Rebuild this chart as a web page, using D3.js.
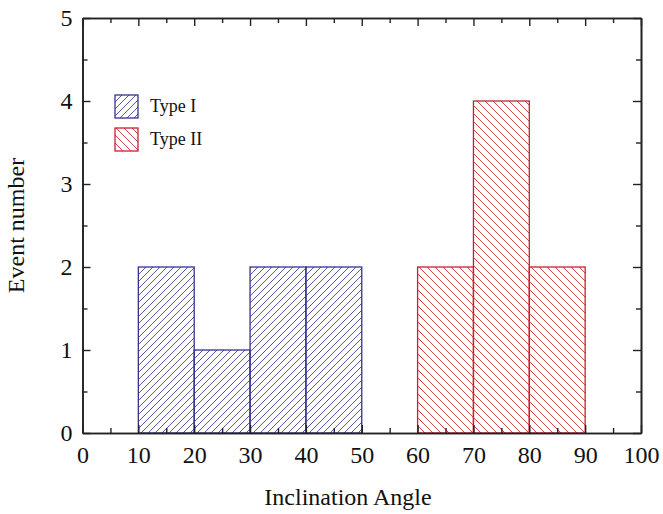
<!DOCTYPE html>
<html>
<head>
<meta charset="utf-8">
<script src="https://cdn.jsdelivr.net/npm/d3@7"></script>
<style>
  body { margin: 0; background: #fff; }
  text { font-family: "Liberation Serif", "Times New Roman", serif; fill: #111; }
</style>
</head>
<body>
<div id="chart"></div>
<script>
// bins of inclination angle (deg) and event counts
var binStarts1 = [0, 10, 20, 30, 40, 50];
var counts1 = [0, 2, 1, 2, 2, 0];
var binStarts2 = [60, 70, 80];
var counts2 = [2, 4, 2];
var binWidth = 10;
var seriesNames = ["Type I", "Type II"];
var xTicks = [0, 10, 20, 30, 40, 50, 60, 70, 80, 90, 100];
var yTicks = [0, 1, 2, 3, 4, 5];

var width = 663, height = 514;
var margin = {top: 18, right: 22, bottom: 81, left: 82.5};

var svg = d3.select("#chart").append("svg")
    .attr("width", width)
    .attr("height", height);

var x = d3.scaleLinear().domain([0, 100]).range([margin.left, width - margin.right]);
var y = d3.scaleLinear().domain([0, 5]).range([height - margin.bottom, margin.top]);

var blue = "#34348f", red = "#c8202f";

// hatch patterns
var defs = svg.append("defs");
defs.append("pattern")
    .attr("id", "hatch1")
    .attr("patternUnits", "userSpaceOnUse")
    .attr("width", 7).attr("height", 7)
  .append("path")
    .attr("d", "M-1,1 l2,-2 M0,7 l7,-7 M6,8 l2,-2")
    .attr("stroke", "#4444a6")
    .attr("stroke-width", 0.9);
defs.append("pattern")
    .attr("id", "hatch2")
    .attr("patternUnits", "userSpaceOnUse")
    .attr("width", 8).attr("height", 8)
  .append("path")
    .attr("d", "M-1,7 l2,2 M0,0 l8,8 M7,-1 l2,2")
    .attr("stroke", "#d0303c")
    .attr("stroke-width", 0.9);

function drawBars(starts, counts, fill, color) {
    svg.append("g").selectAll("rect")
        .data(starts)
        .enter().append("rect")
            .attr("x", function(d) { return x(d); })
            .attr("width", function(d) { return x(d + binWidth) - x(d); })
            .attr("y", function(d, i) { return y(counts[i]); })
            .attr("height", function(d, i) { return y(0) - y(counts[i]); })
            .attr("fill", fill)
            .attr("stroke", color)
            .attr("stroke-width", 1.3);
}
drawBars(binStarts1, counts1, "url(#hatch1)", blue);
drawBars(binStarts2, counts2, "url(#hatch2)", red);

// axes, ticks inside on all four sides
var xMinor = d3.range(5, 100, 10);
var yMinor = d3.range(0.5, 5, 1);

var frame = svg.append("g");
frame.append("g").attr("transform", "translate(0," + y(0) + ")")
    .call(d3.axisBottom(x).tickValues(xTicks).tickSize(-8).tickSizeOuter(0).tickPadding(13));
frame.append("g").attr("transform", "translate(0," + y(0) + ")")
    .call(d3.axisBottom(x).tickValues(xMinor).tickSize(-5).tickSizeOuter(0).tickFormat(""));
frame.append("g").attr("transform", "translate(0," + y(5) + ")")
    .call(d3.axisTop(x).tickValues(xTicks).tickSize(-8).tickSizeOuter(0).tickFormat(""));
frame.append("g").attr("transform", "translate(0," + y(5) + ")")
    .call(d3.axisTop(x).tickValues(xMinor).tickSize(-5).tickSizeOuter(0).tickFormat(""));
frame.append("g").attr("transform", "translate(" + x(0) + ",0)")
    .call(d3.axisLeft(y).tickValues(yTicks).tickFormat(d3.format("d")).tickSize(-8).tickSizeOuter(0).tickPadding(10));
frame.append("g").attr("transform", "translate(" + x(0) + ",0)")
    .call(d3.axisLeft(y).tickValues(yMinor).tickSize(-5).tickSizeOuter(0).tickFormat(""));
frame.append("g").attr("transform", "translate(" + x(100) + ",0)")
    .call(d3.axisRight(y).tickValues(yTicks).tickSize(-8).tickSizeOuter(0).tickFormat(""));
frame.append("g").attr("transform", "translate(" + x(100) + ",0)")
    .call(d3.axisRight(y).tickValues(yMinor).tickSize(-5).tickSizeOuter(0).tickFormat(""));

frame.selectAll(".domain").attr("stroke", "#222").attr("stroke-width", 1.6);
frame.selectAll(".tick line").attr("stroke", "#222").attr("stroke-width", 1.4);
frame.selectAll(".tick text")
    .style("font-family", "Liberation Serif, serif")
    .style("font-size", "24px")
    .attr("fill", "#111");

// axis titles
svg.append("text")
    .attr("x", 348)
    .attr("y", 505)
    .attr("text-anchor", "middle")
    .style("font-size", "24px")
    .text("Inclination Angle");
svg.append("text")
    .attr("transform", "translate(24," + ((y(0) + y(5)) / 2) + ") rotate(-90)")
    .attr("text-anchor", "middle")
    .style("font-size", "24px")
    .text("Event number");

// legend
var legend = svg.append("g").attr("transform", "translate(115,95)");
var fills = ["url(#hatch1)", "url(#hatch2)"], colors = [blue, red];
seriesNames.forEach(function(name, i) {
    legend.append("rect")
        .attr("x", 0).attr("y", i * 33)
        .attr("width", 23).attr("height", 23)
        .attr("fill", fills[i])
        .attr("stroke", colors[i])
        .attr("stroke-width", 1.3);
    legend.append("text")
        .attr("x", 35).attr("y", i * 33 + 17)
        .style("font-size", "18px")
        .text(name);
});
</script>
</body>
</html>
